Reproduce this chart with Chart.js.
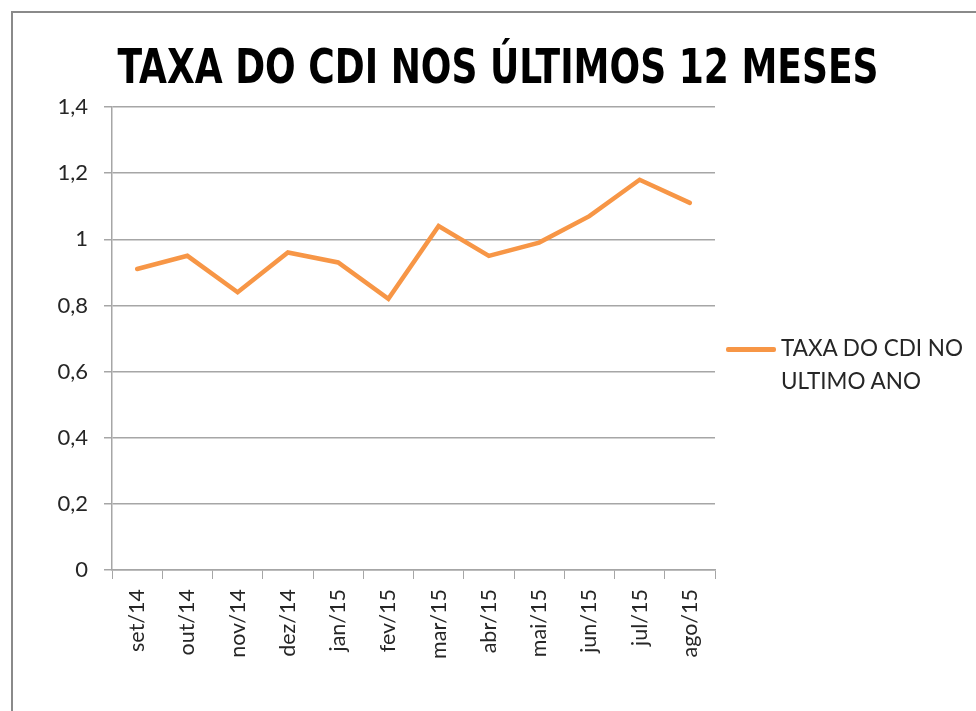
<!DOCTYPE html>
<html lang="pt">
<head>
  <meta charset="UTF-8" />
  <title>Taxa do CDI nos últimos 12 meses</title>
  <script src="https://cdn.jsdelivr.net/npm/chart.js"></script>
  <style>
    * { box-sizing: border-box; margin: 0; padding: 0; }
    body { background: #fff; }
    #wrap { position: relative; width: 976px; height: 711px; overflow: hidden; }
    #frame {
      position: absolute; left: 11px; top: 11px; right: -10px; bottom: -10px;
      border-left: 2px solid #8a8a8a; border-top: 2px solid #8a8a8a;
    }
    #title {
      position: absolute; left: 20px; right: 0; top: 42px;
      text-align: center;
      font: bold 48px/48px 'Liberation Sans Narrow', 'DejaVu Sans Condensed', sans-serif;
      color: #000;
      white-space: nowrap;
      transform: scaleX(0.835);
      transform-origin: center;
    }
    #legend-line {
      position: absolute; left: 726px; top: 347px; width: 50px; height: 5px;
      background: #f79646; border-radius: 2px;
    }
    #legend-text {
      position: absolute; left: 781px; top: 331px;
      font: 22.5px/33px Lato, sans-serif;
      color: #262626;
    }
    canvas { position: absolute; left: 0; top: 0; }
  </style>
</head>
<body>
  <div id="wrap">
    <div id="frame"></div>
    <canvas id="cdiChart" width="976" height="711"></canvas>
    <div id="title">TAXA DO CDI NOS ÚLTIMOS 12 MESES</div>
    <div id="legend-line"></div>
    <div id="legend-text">TAXA DO CDI NO<br>ULTIMO ANO</div>
  </div>

  <script>
    const MONTHS = ['set/14', 'out/14', 'nov/14', 'dez/14', 'jan/15', 'fev/15',
                    'mar/15', 'abr/15', 'mai/15', 'jun/15', 'jul/15', 'ago/15'];
    const CDI_RATE = [0.91, 0.95, 0.84, 0.96, 0.93, 0.82, 1.04, 0.95, 0.99, 1.07, 1.18, 1.11];
    const SERIES_LABEL = 'TAXA DO CDI NO ULTIMO ANO';
    const Y_MIN = 0, Y_MAX = 1.4, Y_STEP = 0.2;

    const GRID = '#a6a6a6';
    const TEXT = '#262626';

    // decimal comma, like the original
    function fmt(v) {
      return String(Math.round(v * 10) / 10).replace('.', ',');
    }

    const ctx = document.getElementById('cdiChart').getContext('2d');
    new Chart(ctx, {
      type: 'line',
      data: {
        labels: MONTHS,
        datasets: [{
          label: SERIES_LABEL,
          data: CDI_RATE,
          borderColor: '#f79646',
          backgroundColor: '#f79646',
          borderWidth: 4.5,
          pointRadius: 0,
          tension: 0,
          borderCapStyle: 'round',
          fill: false
        }]
      },
      options: {
        responsive: false,
        animation: false,
        layout: { padding: { left: 0, top: 107, right: 261, bottom: 0 } },
        plugins: {
          legend: { display: false },
          title: { display: false },
          tooltip: { enabled: false }
        },
        scales: {
          x: {
            offset: true,
            afterFit: (s) => { s.height = 141; },
            grid: {
              drawOnChartArea: false,
              drawTicks: true,
              tickLength: 9,
              color: GRID,
              offset: true
            },
            border: { display: true, color: GRID, width: 1.5 },
            ticks: {
              minRotation: 90,
              maxRotation: 90,
              padding: 10,
              color: TEXT,
              font: { family: 'Lato, sans-serif', size: 21.5 }
            }
          },
          y: {
            min: Y_MIN,
            max: Y_MAX,
            afterFit: (s) => { s.width = 112; },
            grid: {
              color: GRID,
              lineWidth: 1.5,
              drawTicks: true,
              tickLength: 8
            },
            border: { display: true, color: GRID, width: 1.5 },
            ticks: {
              stepSize: Y_STEP,
              padding: 16,
              color: TEXT,
              font: { family: 'Lato, sans-serif', size: 22 },
              callback: (v) => fmt(v)
            }
          }
        }
      }
    });
  </script>
</body>
</html>
